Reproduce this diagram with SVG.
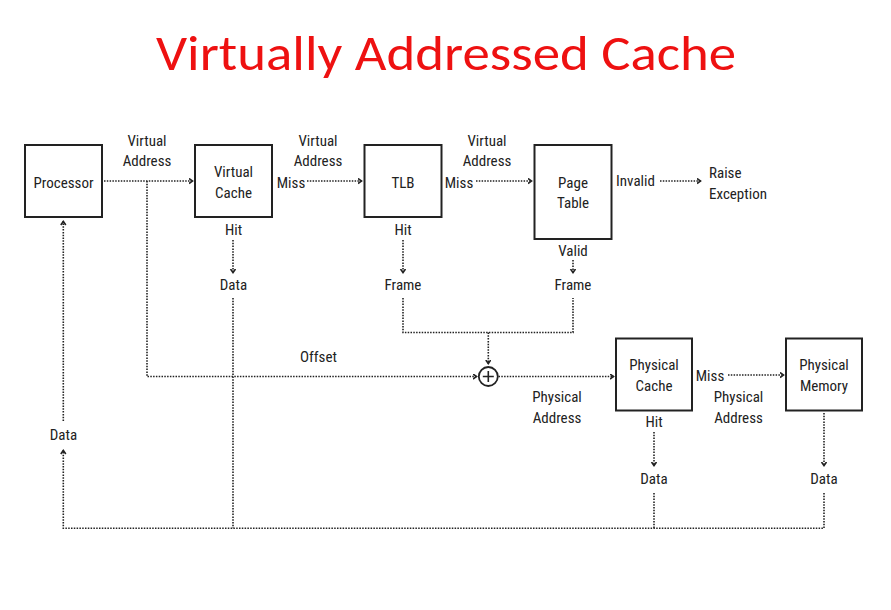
<svg xmlns="http://www.w3.org/2000/svg" width="891" height="610" viewBox="0 0 891 610">
<style>
.t{font-family:"Liberation Sans Narrow","Roboto Condensed","DejaVu Sans Condensed","Liberation Sans",sans-serif;font-size:15px;fill:#222;text-anchor:middle}
.l{text-anchor:start}
.box{fill:#fff;stroke:#222;stroke-width:2}
.c{fill:none;stroke:#222;stroke-width:1.6;stroke-dasharray:1.5 1.3}
.title{font-family:"Carlito","Liberation Sans",sans-serif;font-size:50px;fill:#ee1111;text-anchor:middle}
</style>
<defs>
<marker id="a" markerUnits="userSpaceOnUse" markerWidth="8" markerHeight="8" refX="4.5" refY="3" orient="auto">
<path d="M0.5,0.5 L4,3 L0.5,5.5" fill="none" stroke="#222" stroke-width="1.6"/>
</marker>
</defs>
<rect width="891" height="610" fill="#fff"/>
<text class="title" x="446" y="70" textLength="580" lengthAdjust="spacingAndGlyphs">Virtually Addressed Cache</text>

<g id="connectors">
<path class="c" d="M104,181 H193" marker-end="url(#a)"/>
<path class="c" d="M307,181 H362" marker-end="url(#a)"/>
<path class="c" d="M476,181 H532" marker-end="url(#a)"/>
<path class="c" d="M660,181 H701" marker-end="url(#a)"/>
<path class="c" d="M147,181 V376.5 H477" marker-end="url(#a)"/>
<path class="c" d="M498.5,376.5 H614" marker-end="url(#a)"/>
<path class="c" d="M728,375 H784" marker-end="url(#a)"/>
<path class="c" d="M233,240 V273" marker-end="url(#a)"/>
<path class="c" d="M403,240 V273" marker-end="url(#a)"/>
<path class="c" d="M573,260 V273" marker-end="url(#a)"/>
<path class="c" d="M403,298 V332.5 H573 V298"/>
<path class="c" d="M488.3,332.5 V364" marker-end="url(#a)"/>
<path class="c" d="M654,432 V466" marker-end="url(#a)"/>
<path class="c" d="M824,413 V466" marker-end="url(#a)"/>
<path class="c" d="M654,493 V528.3"/>
<path class="c" d="M824,493 V528.3 H63.3 V450" marker-end="url(#a)"/>
<path class="c" d="M233,298 V528.3"/>
<path class="c" d="M63.3,421 V221" marker-end="url(#a)"/>
</g>

<g id="processor">
<rect class="box" x="25" y="145" width="77" height="72"/>
<text class="t" x="63.5" y="187.5">Processor</text>
</g>
<g id="virtual-cache">
<rect class="box" x="195" y="145" width="77" height="72"/>
<text class="t" x="233.5" y="176.5">Virtual</text>
<text class="t" x="233.5" y="198">Cache</text>
</g>
<g id="tlb">
<rect class="box" x="364.5" y="145" width="77" height="72"/>
<text class="t" x="403" y="187.5">TLB</text>
</g>
<g id="page-table">
<rect class="box" x="534.5" y="145" width="77" height="94"/>
<text class="t" x="573" y="187.5">Page</text>
<text class="t" x="573" y="208">Table</text>
</g>
<g id="physical-cache">
<rect class="box" x="616" y="338.5" width="76" height="72"/>
<text class="t" x="654" y="370">Physical</text>
<text class="t" x="654" y="390.5">Cache</text>
</g>
<g id="physical-memory">
<rect class="box" x="786" y="338.5" width="76" height="72"/>
<text class="t" x="824" y="370">Physical</text>
<text class="t" x="824" y="390.5">Memory</text>
</g>
<g id="adder">
<circle cx="488.3" cy="376.5" r="9.5" fill="#fff" stroke="#222" stroke-width="1.8"/>
<path d="M488.3,371 V382 M482.8,376.5 H493.8" stroke="#222" stroke-width="1.6"/>
</g>

<g id="labels">
<text class="t" x="147" y="145.5">Virtual</text>
<text class="t" x="147" y="166">Address</text>
<text class="t" x="318" y="145.5">Virtual</text>
<text class="t" x="318" y="166">Address</text>
<text class="t" x="291" y="187.5">Miss</text>
<text class="t" x="487" y="145.5">Virtual</text>
<text class="t" x="487" y="166">Address</text>
<text class="t" x="459" y="187.5">Miss</text>
<text class="t" x="635.5" y="186">Invalid</text>
<text class="t l" x="709" y="177.5">Raise</text>
<text class="t l" x="709" y="198.5">Exception</text>
<text class="t" x="233.5" y="235">Hit</text>
<text class="t" x="233.5" y="290">Data</text>
<text class="t" x="403" y="235">Hit</text>
<text class="t" x="403" y="290">Frame</text>
<text class="t" x="573" y="255.5">Valid</text>
<text class="t" x="573" y="290">Frame</text>
<text class="t" x="318.5" y="362">Offset</text>
<text class="t" x="557" y="401.5">Physical</text>
<text class="t" x="557" y="422.5">Address</text>
<text class="t" x="710" y="380.5">Miss</text>
<text class="t" x="738.5" y="401.5">Physical</text>
<text class="t" x="738.5" y="422.5">Address</text>
<text class="t" x="654" y="427">Hit</text>
<text class="t" x="654" y="483.5">Data</text>
<text class="t" x="824" y="483.5">Data</text>
<text class="t" x="63.5" y="440">Data</text>
</g>
</svg>
